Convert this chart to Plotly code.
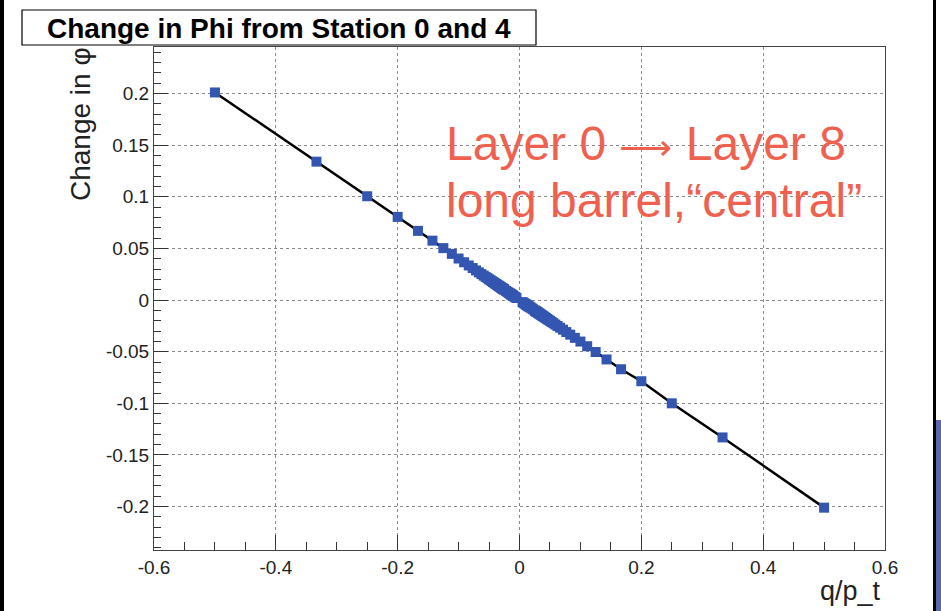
import plotly.graph_objects as go

# ---- data ----
q_over_pt = [-0.5, -0.3333, -0.25, -0.2, -0.1667, -0.1429, -0.125, -0.1111, -0.1, -0.0909,
             -0.0833, -0.0769, -0.0714, -0.0667, -0.0625, -0.0588, -0.0556, -0.0526, -0.05,
             -0.0476, -0.0455, -0.0435, -0.0417, -0.04, -0.0385, -0.037, -0.0357, -0.0345,
             -0.0333, -0.0323, -0.0313, -0.0303, -0.0294, -0.0286, -0.0278, -0.027, -0.0263,
             -0.0256, -0.025, -0.0222, -0.02, -0.0182, -0.0167, -0.0154, -0.0143, -0.0133,
             -0.0125, -0.0111, -0.01, -0.0083, -0.0067, -0.005,
             0.005, 0.0067, 0.0083, 0.01, 0.0111, 0.0125, 0.0133, 0.0143, 0.0154, 0.0167,
             0.0182, 0.02, 0.0222,
             0.025, 0.0256, 0.0263, 0.027, 0.0278, 0.0286, 0.0294, 0.0303, 0.0313, 0.0323,
             0.0333, 0.0345, 0.0357, 0.037, 0.0385, 0.04, 0.0417, 0.0435, 0.0455, 0.0476,
             0.05, 0.0526, 0.0556, 0.0588, 0.0625, 0.0667, 0.0714, 0.0769, 0.0833, 0.0909,
             0.1, 0.1111, 0.125, 0.1429, 0.1667, 0.2, 0.25, 0.3333, 0.5]
delta_phi = [0.201, 0.134, 0.1005, 0.0805, 0.067, 0.0575, 0.0503, 0.0447, 0.0402, 0.0366,
             0.0335, 0.031, 0.0287, 0.0268, 0.0251, 0.0237, 0.0224, 0.0212, 0.0201,
             0.0192, 0.0183, 0.0175, 0.0168, 0.0161, 0.0155, 0.0149, 0.0144, 0.0139,
             0.0134, 0.013, 0.0126, 0.0122, 0.0118, 0.0115, 0.0112, 0.0109, 0.0106,
             0.0103, 0.0101, 0.0089, 0.008, 0.0073, 0.0067, 0.0062, 0.0057, 0.0053,
             0.005, 0.0045, 0.004, 0.0033, 0.0027, 0.002,
             -0.002, -0.0027, -0.0033, -0.004, -0.0045, -0.005, -0.0053, -0.0057, -0.0062, -0.0067,
             -0.0073, -0.008, -0.0089,
             -0.0101, -0.0103, -0.0106, -0.0109, -0.0112, -0.0115, -0.0118, -0.0122, -0.0126, -0.013,
             -0.0134, -0.0139, -0.0144, -0.0149, -0.0155, -0.0161, -0.0168, -0.0175, -0.0183, -0.0192,
             -0.0201, -0.0212, -0.0224, -0.0237, -0.0251, -0.0268, -0.0287, -0.031, -0.0335, -0.0366,
             -0.0402, -0.0447, -0.0503, -0.0575, -0.067, -0.0786, -0.1, -0.133, -0.201]

x_tick_vals = [-0.6, -0.4, -0.2, 0, 0.2, 0.4, 0.6]
x_tick_text = ["-0.6", "-0.4", "-0.2", "0", "0.2", "0.4", "0.6"]
y_tick_vals = [-0.2, -0.15, -0.1, -0.05, 0, 0.05, 0.1, 0.15, 0.2]
y_tick_text = ["-0.2", "-0.15", "-0.1", "-0.05", "0", "0.05", "0.1", "0.15", "0.2"]

title_text = "Change in Phi from Station 0 and 4"
note_line1 = "Layer 0 <span style='font-size:37px'>\u27f6</span> Layer 8"
note_line2 = "long barrel,\u201ccentral\u201d"

# ---- geometry ----
W, H = 941, 611
L, R, T, B = 154, 885, 47, 550


def px(x):
    return (x - L) / (R - L)


def py(y):
    return (B - y) / (B - T)


fig = go.Figure()
fig.add_trace(go.Scatter(
    x=q_over_pt, y=delta_phi, mode="lines+markers",
    line=dict(color="black", width=2.5),
    marker=dict(symbol="square", size=10, color="#3456b0"),
    showlegend=False, hoverinfo="skip"))

font_fam = "Liberation Sans, Arial, sans-serif"
fig.update_layout(
    width=W, height=H,
    margin=dict(l=L, r=W - R, t=T, b=H - B),
    paper_bgcolor="white", plot_bgcolor="white",
    font=dict(family=font_fam, color="#222"),
    xaxis=dict(range=[-0.6, 0.6], tickvals=x_tick_vals, ticktext=x_tick_text,
               ticks="inside", ticklen=15, tickcolor="#333", tickwidth=1,
               minor=dict(dtick=0.05, tick0=0, ticks="inside", ticklen=8, tickcolor="#333", showgrid=False),
               showline=True, linecolor="#444", linewidth=1, mirror=True,
               showgrid=True, gridcolor="#8a8a8a", griddash="dot", gridwidth=1,
               zeroline=False, tickfont=dict(size=19, color="#222")),
    yaxis=dict(range=[-0.242, 0.245], tickvals=y_tick_vals, ticktext=y_tick_text,
               ticks="inside", ticklen=14, tickcolor="#333", tickwidth=1,
               minor=dict(dtick=0.01, tick0=0, ticks="inside", ticklen=7, tickcolor="#333", showgrid=False),
               showline=True, linecolor="#444", linewidth=1, mirror=True,
               showgrid=True, gridcolor="#8a8a8a", griddash="dot", gridwidth=1,
               zeroline=False, tickfont=dict(size=19, color="#222")),
)

# title box
fig.add_shape(type="rect", xref="paper", yref="paper",
              x0=px(22), x1=px(536), y0=py(45), y1=py(10),
              line=dict(color="black", width=1.2), fillcolor="white")
fig.add_annotation(text="<b>" + title_text + "</b>", xref="paper", yref="paper",
                   x=px(279), y=py(28), xanchor="center", yanchor="middle",
                   showarrow=False, font=dict(size=28, color="black", family=font_fam))

# axis titles
fig.add_annotation(text="Change in \u03c6", xref="paper", yref="paper",
                   x=px(81), y=py(124), xanchor="center", yanchor="middle", textangle=-90,
                   showarrow=False, font=dict(size=28, color="#222", family=font_fam))
fig.add_annotation(text="q/p_t", xref="paper", yref="paper",
                   x=px(883), y=py(591), xanchor="right", yanchor="middle",
                   showarrow=False, font=dict(size=27, color="#222", family=font_fam))

# red note
red = "#f0604f"
fig.add_annotation(text=note_line1, xref="paper", yref="paper",
                   x=px(444), y=py(143), xanchor="left", yanchor="middle",
                   showarrow=False, font=dict(size=48, color=red, family=font_fam))
fig.add_annotation(text=note_line2, xref="paper", yref="paper",
                   x=px(444), y=py(200), xanchor="left", yanchor="middle",
                   showarrow=False, font=dict(size=48, color=red, family=font_fam))

# slide edge decorations
fig.add_shape(type="line", xref="paper", yref="paper", x0=px(2), x1=px(2), y0=py(H + 5), y1=py(-5),
              line=dict(width=4, color="black"), layer="above")
fig.add_shape(type="rect", xref="paper", yref="paper", x0=px(933), x1=px(936), y0=py(H), y1=py(0),
              line=dict(width=0), fillcolor="black", layer="above")
fig.add_shape(type="rect", xref="paper", yref="paper", x0=px(936), x1=px(941), y0=py(H), y1=py(420),
              line=dict(width=0), fillcolor="#5b68a8", layer="above")

fig.write_html("out.html", config={"displayModeBar": False},
               post_script="document.body.style.margin='0px';")
